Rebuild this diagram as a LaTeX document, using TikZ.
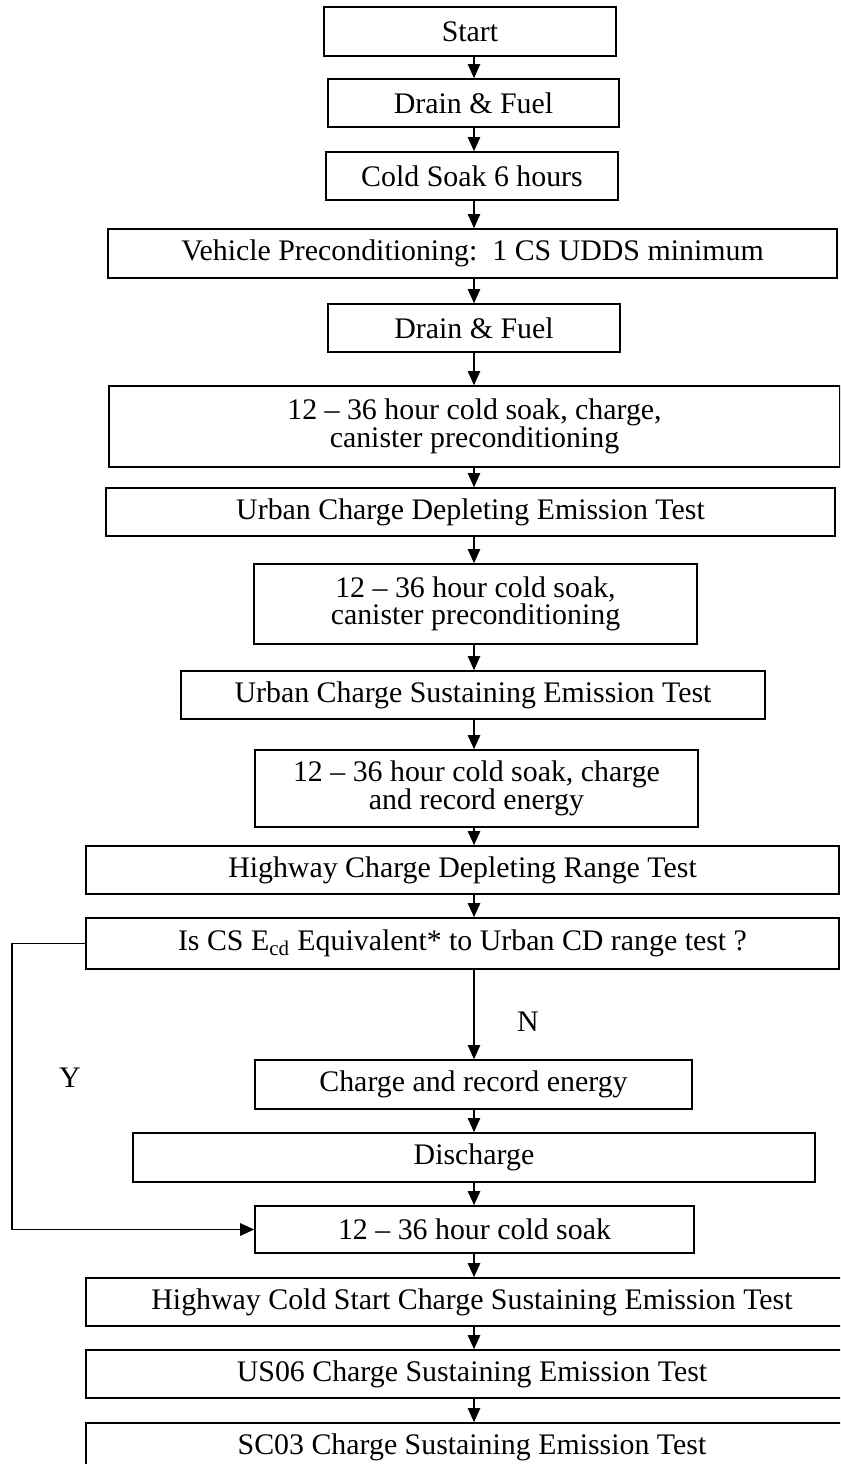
\documentclass[tikz,border=0pt]{standalone}
\usepackage{fontspec}
\setmainfont{Liberation Serif}
\usetikzlibrary{arrows.meta}

\begin{document}
\begin{tikzpicture}[x=0.02cm, y=-0.02cm,
    box/.style={draw=black, line width=0.9pt, inner sep=0pt, align=center,
                font=\fontsize{17}{15.6}\selectfont},
    arr/.style={line width=0.8pt, -{Triangle[length=8pt, width=7pt]}},
    lbl/.style={font=\fontsize{17}{15.6}\selectfont}]
    \useasboundingbox (0,0) rectangle (840,1464);
    \clip (0,0) rectangle (840,1464);
    \coordinate (axis) at (474,0);
    \coordinate (yturn) at (12,0);
    \node[box, minimum width=5.84cm,  minimum height=0.98cm] (start)        at (470,  31.5) {Start};
    \node[box, minimum width=5.82cm,  minimum height=0.96cm] (drain1)       at (473.5,103)  {Drain \& Fuel};
    \node[box, minimum width=5.84cm,  minimum height=0.96cm] (coldsoak)     at (472,  176)  {Cold Soak 6 hours};
    \node[box, minimum width=14.58cm, minimum height=0.98cm] (precond)      at (472.5,253.5){Vehicle Preconditioning:\ \ 1 CS UDDS minimum};
    \node[box, minimum width=5.84cm,  minimum height=0.96cm] (drain2)       at (474,  328)  {Drain \& Fuel};
    \node[box, minimum width=14.62cm, minimum height=1.62cm] (soakcharge)   at (474.5,426.5){12 -- 36 hour cold soak, charge,\\canister preconditioning};
    \node[box, minimum width=14.58cm, minimum height=0.96cm] (urbancd)      at (470.5,512)  {Urban Charge Depleting Emission Test};
    \node[box, minimum width=8.86cm,  minimum height=1.60cm] (soakcanister) at (475.5,604)  {12 -- 36 hour cold soak,\\canister preconditioning};
    \node[box, minimum width=11.68cm, minimum height=0.96cm] (urbancs)      at (473,  695)  {Urban Charge Sustaining Emission Test};
    \node[box, minimum width=8.86cm,  minimum height=1.54cm] (soakenergy)   at (476.5,788.5){12 -- 36 hour cold soak, charge\\and record energy};
    \node[box, minimum width=15.06cm, minimum height=0.96cm] (hwycd)        at (462.5,870)  {Highway Charge Depleting Range Test};
    \node[box, minimum width=15.06cm, minimum height=1.02cm] (iscs)         at (462.5,943.5){Is CS E\textsubscript{cd} Equivalent* to Urban CD range test ?};
    \node[box, minimum width=8.74cm,  minimum height=0.98cm] (charge)       at (473.5,1084.5){Charge and record energy};
    \node[box, minimum width=13.64cm, minimum height=0.98cm] (discharge)    at (474,  1157.5){Discharge};
    \node[box, minimum width=8.78cm,  minimum height=0.94cm] (soak)         at (474.5,1229.5){12 -- 36 hour cold soak};
    \node[box, minimum width=15.44cm, minimum height=0.96cm] (hwycs)        at (472,  1302) {Highway Cold Start Charge Sustaining Emission Test};
    \node[box, minimum width=15.44cm, minimum height=0.96cm] (us06)         at (472,  1374) {US06 Charge Sustaining Emission Test};
    \node[box, minimum width=15.44cm, minimum height=0.98cm] (sc03)         at (472,  1447.5){SC03 Charge Sustaining Emission Test};
    % decision labels
    \node[lbl] (nlabel) at (528,1022) {N};
    \node[lbl] (ylabel) at ( 70,1078) {Y};
    % main flow
    \draw[arr] (start.south -| axis)        -- (drain1.north -| axis);
    \draw[arr] (drain1.south -| axis)       -- (coldsoak.north -| axis);
    \draw[arr] (coldsoak.south -| axis)     -- (precond.north -| axis);
    \draw[arr] (precond.south -| axis)      -- (drain2.north -| axis);
    \draw[arr] (drain2.south -| axis)       -- (soakcharge.north -| axis);
    \draw[arr] (soakcharge.south -| axis)   -- (urbancd.north -| axis);
    \draw[arr] (urbancd.south -| axis)      -- (soakcanister.north -| axis);
    \draw[arr] (soakcanister.south -| axis) -- (urbancs.north -| axis);
    \draw[arr] (urbancs.south -| axis)      -- (soakenergy.north -| axis);
    \draw[arr] (soakenergy.south -| axis)   -- (hwycd.north -| axis);
    \draw[arr] (hwycd.south -| axis)        -- (iscs.north -| axis);
    \draw[arr] (iscs.south -| axis)         -- (charge.north -| axis);
    \draw[arr] (charge.south -| axis)       -- (discharge.north -| axis);
    \draw[arr] (discharge.south -| axis)    -- (soak.north -| axis);
    \draw[arr] (soak.south -| axis)         -- (hwycs.north -| axis);
    \draw[arr] (hwycs.south -| axis)        -- (us06.north -| axis);
    \draw[arr] (us06.south -| axis)         -- (sc03.north -| axis);
    % Y branch
    \draw[arr, line width=1pt] (iscs.west) -- (iscs.west -| yturn) |- (soak.west);
\end{tikzpicture}
\end{document}
